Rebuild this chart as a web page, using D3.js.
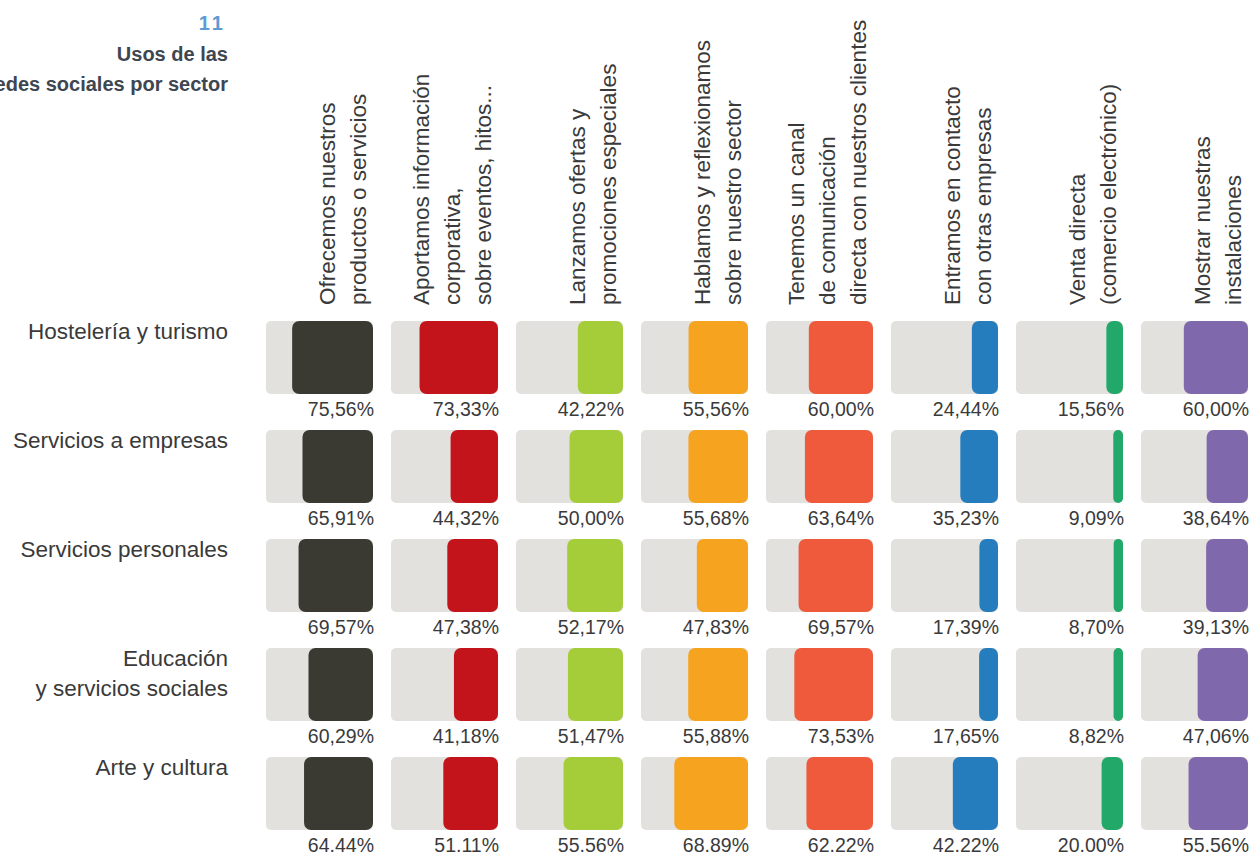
<!DOCTYPE html>
<html>
<head>
<meta charset="utf-8">
<script src="https://cdn.jsdelivr.net/npm/d3@7"></script>
<style>
  body { margin: 0; background: #fff; }
  svg { display: block; }
</style>
</head>
<body>
<svg width="1250" height="853"></svg>
<script>
// categories (columns)
let usos = [
    ["Ofrecemos nuestros", "productos o servicios"],
    ["Aportamos información", "corporativa,", "sobre eventos, hitos..."],
    ["Lanzamos ofertas y", "promociones especiales"],
    ["Hablamos y reflexionamos", "sobre nuestro sector"],
    ["Tenemos un canal", "de comunicación", "directa con nuestros clientes"],
    ["Entramos en contacto", "con otras empresas"],
    ["Venta directa", "(comercio electrónico)"],
    ["Mostrar nuestras", "instalaciones"]
];
let colores = ["#3b3a32", "#c3141c", "#a5cd39", "#f6a31f", "#ef5a3d", "#267dbd", "#22a96a", "#8068ad"];

// sectors (rows)
let sectores = [
    ["Hostelería y turismo"],
    ["Servicios a empresas"],
    ["Servicios personales"],
    ["Educación", "y servicios sociales"],
    ["Arte y cultura"]
];
let separadores = [",", ",", ",", ",", "."];

// values, one list per sector
let hosteleria = [75.56, 73.33, 42.22, 55.56, 60.00, 24.44, 15.56, 60.00];
let serviciosEmpresas = [65.91, 44.32, 50.00, 55.68, 63.64, 35.23, 9.09, 38.64];
let serviciosPersonales = [69.57, 47.38, 52.17, 47.83, 69.57, 17.39, 8.70, 39.13];
let educacion = [60.29, 41.18, 51.47, 55.88, 73.53, 17.65, 8.82, 47.06];
let arte = [64.44, 51.11, 55.56, 68.89, 62.22, 42.22, 20.00, 55.56];
let valores = [hosteleria, serviciosEmpresas, serviciosPersonales, educacion, arte];

const svg = d3.select("svg");
const font = "'Liberation Sans', Arial, sans-serif";

let x = d3.scaleBand()
    .domain(d3.range(usos.length))
    .range([266, 266 + 8 * 125 - 18])
    .paddingInner(18 / 125);
let y = d3.scaleBand()
    .domain(d3.range(sectores.length))
    .range([321, 321 + 5 * 109 - 36])
    .paddingInner(36 / 109);
let w = d3.scaleLinear().domain([0, 100]).range([0, x.bandwidth()]);

// title
svg.append("text")
    .attr("x", 226)
    .attr("y", 30)
    .attr("text-anchor", "end")
    .attr("font-family", font)
    .attr("font-weight", "bold")
    .attr("font-size", 20)
    .attr("letter-spacing", 3)
    .attr("fill", "#5e9bd2")
    .text("11");
svg.append("g")
    .attr("font-family", "'Liberation Sans Narrow', 'Liberation Sans', sans-serif")
    .attr("font-weight", "bold")
    .attr("font-size", 20)
    .attr("text-anchor", "end")
    .attr("fill", "#3e4651")
    .selectAll("text")
    .data([["Usos de las", 61], ["redes sociales por sector", 91]])
    .join("text")
    .attr("x", 228)
    .attr("y", d => d[1])
    .text(d => d[0]);

// column headers
let header = svg.append("g")
    .attr("font-family", font)
    .attr("font-size", 22.5)
    .attr("fill", "#3a3a3a")
    .selectAll("g")
    .data(usos)
    .join("g")
    .attr("transform", (d, i) => `translate(${x(i)},305)`);
header.selectAll("text")
    .data(d => d.map((t, j) => ({t: t, j: j, n: d.length})))
    .join("text")
    .attr("transform", d => `translate(${100 - (d.n - 1 - d.j) * 31},0) rotate(-90)`)
    .text(d => d.t);

// row labels
let filas = svg.append("g")
    .attr("font-family", font)
    .attr("font-size", 22.5)
    .attr("fill", "#3a3a3a")
    .attr("text-anchor", "end")
    .selectAll("g")
    .data(sectores)
    .join("g")
    .attr("transform", (d, i) => `translate(228,${y(i) + 18})`);
filas.selectAll("text")
    .data(d => d)
    .join("text")
    .attr("y", (d, j) => j * 30)
    .text(d => d);

// cells
let celdas = [];
valores.forEach((fila, r) => fila.forEach((v, c) => celdas.push({r: r, c: c, v: v})));

let g = svg.append("g");
g.selectAll("rect.bg")
    .data(celdas)
    .join("rect")
    .attr("class", "bg")
    .attr("x", d => x(d.c))
    .attr("y", d => y(d.r))
    .attr("width", x.bandwidth())
    .attr("height", y.bandwidth())
    .attr("rx", 5)
    .attr("fill", "#e2e1de");

g.selectAll("rect.bar")
    .data(celdas)
    .join("rect")
    .attr("class", "bar")
    .attr("x", d => x(d.c) + x.bandwidth() - w(d.v))
    .attr("y", d => y(d.r))
    .attr("width", d => w(d.v))
    .attr("height", y.bandwidth())
    .attr("rx", d => Math.min(7, w(d.v) / 2))
    .attr("fill", d => colores[d.c]);

g.selectAll("text.pct")
    .data(celdas)
    .join("text")
    .attr("class", "pct")
    .attr("x", d => x(d.c) + x.bandwidth() + 1)
    .attr("y", d => y(d.r) + y.bandwidth() + 22)
    .attr("text-anchor", "end")
    .attr("font-family", font)
    .attr("font-size", 19.5)
    .attr("fill", "#3a3a3a")
    .text(d => d.v.toFixed(2).replace(".", separadores[d.r]) + "%");
</script>
</body>
</html>
